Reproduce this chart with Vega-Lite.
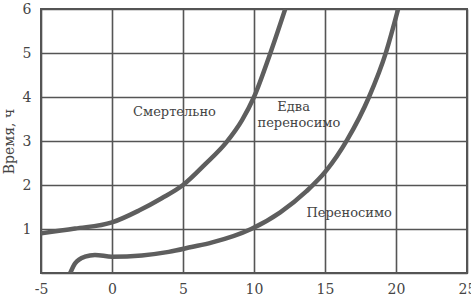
{
  "$schema": "https://vega.github.io/schema/vega-lite/v6.json",
  "width": 426,
  "height": 264,
  "autosize": "none",
  "padding": {"left": 41, "top": 9, "right": 4, "bottom": 28},
  "background": "white",
  "config": {
    "view": {"stroke": "#555555", "strokeWidth": 2},
    "axis": {
      "labelFont": "DejaVu Serif",
      "labelFontSize": 14,
      "labelColor": "#444444",
      "titleFont": "DejaVu Serif",
      "titleFontSize": 14,
      "titleFontWeight": "normal",
      "titleColor": "#444444",
      "grid": true,
      "gridColor": "#555555",
      "gridWidth": 1.6,
      "gridOpacity": 1,
      "domain": false,
      "ticks": false,
      "labelFlush": false,
      "labelOverlap": false,
      "labelBound": false
    }
  },
  "datasets": {
    "curves": [
      {"series": "Смертельно", "t": -5, "h": 0.9},
      {"series": "Смертельно", "t": -2.6, "h": 1.01},
      {"series": "Смертельно", "t": 0, "h": 1.15},
      {"series": "Смертельно", "t": 1.9, "h": 1.42},
      {"series": "Смертельно", "t": 3.5, "h": 1.7},
      {"series": "Смертельно", "t": 5, "h": 2.0},
      {"series": "Смертельно", "t": 6.55, "h": 2.47},
      {"series": "Смертельно", "t": 8.05, "h": 2.97},
      {"series": "Смертельно", "t": 9.15, "h": 3.47},
      {"series": "Смертельно", "t": 10, "h": 4.0},
      {"series": "Смертельно", "t": 11.1, "h": 4.95},
      {"series": "Смертельно", "t": 12.2, "h": 6.0},
      {"series": "Переносимо", "t": -2.94, "h": 0.0},
      {"series": "Переносимо", "t": -2.6, "h": 0.22},
      {"series": "Переносимо", "t": -1.9, "h": 0.37},
      {"series": "Переносимо", "t": -1.2, "h": 0.41},
      {"series": "Переносимо", "t": 0, "h": 0.37},
      {"series": "Переносимо", "t": 2.1, "h": 0.4},
      {"series": "Переносимо", "t": 4.0, "h": 0.48},
      {"series": "Переносимо", "t": 5.6, "h": 0.59},
      {"series": "Переносимо", "t": 7.0, "h": 0.69},
      {"series": "Переносимо", "t": 9.8, "h": 1.0},
      {"series": "Переносимо", "t": 11.85, "h": 1.38},
      {"series": "Переносимо", "t": 13.7, "h": 1.86},
      {"series": "Переносимо", "t": 15.07, "h": 2.32},
      {"series": "Переносимо", "t": 16.55, "h": 3.02},
      {"series": "Переносимо", "t": 18.1, "h": 4.0},
      {"series": "Переносимо", "t": 19.3, "h": 5.02},
      {"series": "Переносимо", "t": 20.15, "h": 6.0}
    ],
    "labels": [
      {"text": "Смертельно", "t": 4.4, "h": 3.66},
      {"text": "Едва", "t": 12.79, "h": 3.78},
      {"text": "переносимо", "t": 13.16, "h": 3.4},
      {"text": "Переносимо", "t": 16.7, "h": 1.36}
    ]
  },
  "layer": [
    {
      "data": {"name": "curves"},
      "mark": {"type": "line", "interpolate": "monotone", "strokeWidth": 4.5, "color": "#5e5e5e", "clip": true, "strokeCap": "butt"},
      "encoding": {
        "x": {
          "field": "t", "type": "quantitative",
          "scale": {"domain": [-5, 25], "nice": false, "zero": false},
          "axis": {
            "title": null,
            "values": [-5, 0, 5, 10, 15, 20, 25],
            "labelPadding": 9,
            "labelExpr": "datum.value < 0 ? '-' + abs(datum.value) : datum.label"
          }
        },
        "y": {
          "field": "h", "type": "quantitative",
          "scale": {"domain": [0, 6], "nice": false},
          "axis": {
            "title": "Время, ч",
            "values": [0, 1, 2, 3, 4, 5, 6],
            "labelPadding": 10,
            "titlePadding": 6,
            "labelExpr": "datum.value == 0 ? '' : datum.label"
          }
        },
        "detail": {"field": "series", "type": "nominal"}
      }
    },
    {
      "data": {"name": "labels"},
      "mark": {"type": "text", "font": "DejaVu Serif", "fontSize": 13, "color": "#444444", "align": "center", "baseline": "middle"},
      "encoding": {
        "x": {"field": "t", "type": "quantitative"},
        "y": {"field": "h", "type": "quantitative"},
        "text": {"field": "text", "type": "nominal"}
      }
    }
  ]
}
